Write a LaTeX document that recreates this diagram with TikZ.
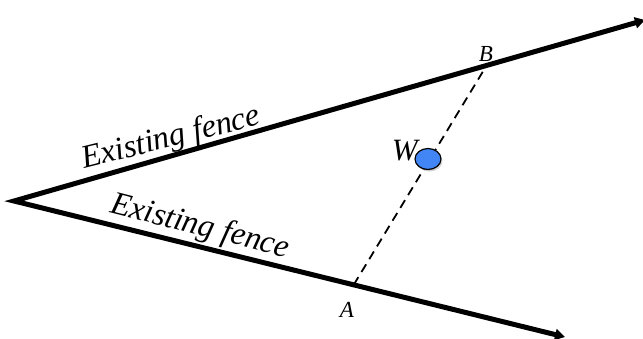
\documentclass[tikz,border=0pt]{standalone}
\usepackage{fontspec}
\setmainfont{Liberation Serif}
\usetikzlibrary{arrows.meta,shadows,calc,shapes.geometric}
\definecolor{wblue}{HTML}{4285F4}
\begin{document}
\begin{tikzpicture}[x=1pt,y=-1pt,
  fence/.style={line width=5pt, line join=miter, {Triangle[length=10pt,width=11pt]}-{Triangle[length=10pt,width=11pt]}},
  fencelabel/.style={font=\itshape\fontsize{32.5}{33}\selectfont, inner sep=0pt, anchor=base},
  ptlabel/.style={font=\itshape\fontsize{23}{23}\selectfont, inner sep=0pt},
  gap/.style={line width=1.8pt, dash pattern=on 9pt off 6pt},
  well/.style={ellipse, draw=black, line width=1.2pt, fill=wblue, minimum width=26pt, minimum height=21pt, inner sep=0pt, drop shadow={shadow xshift=1.5pt, shadow yshift=-2pt, opacity=0.35}}]
\useasboundingbox (0,0) rectangle (643,338);
\coordinate (V) at (14,201);
\coordinate (E1) at (645,20);
\coordinate (E2) at (565,337);
\coordinate (B) at ($(V)!0.749!(E1)$);
\coordinate (A) at ($(V)!0.6165!(E2)$);
\draw[gap] (A) -- (B);
\draw[fence] (E1) -- (V) -- (E2);
\node[well] (W) at (428,159) {};
\node[ptlabel, font=\itshape\fontsize{31}{31}\selectfont, anchor=east] (Wl) at (418,151) {W};
\node[ptlabel] (Bl) at (486,54) {B};
\node[ptlabel] (Al) at (347,310) {A};
\node[fencelabel, rotate=14] (f1) at (173,146.5) {Existing fence};
\node[fencelabel, rotate=-14.3] (f2) at (198,235) {Existing fence};
\end{tikzpicture}
\end{document}
